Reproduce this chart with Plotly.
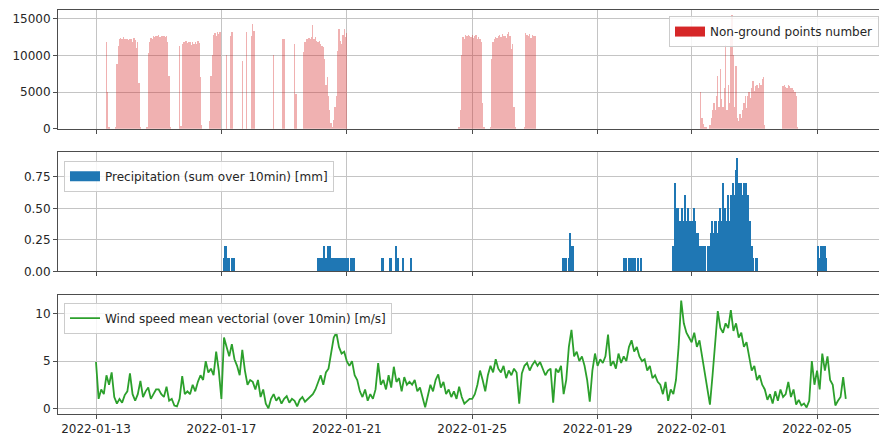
import pandas as pd
import plotly.graph_objects as go

# ---------------- data ----------------
start = pd.Timestamp("2022-01-13 00:00")

# wind speed, one value every 2 hours from 2022-01-13 00:00 (12 per day)
wind_speed = [
    4.9, 1.0, 2.0, 1.5, 3.5, 2.5, 3.8, 1.2, 0.5, 1.0, 0.6, 1.4,
    1.8, 3.7, 1.5, 0.8, 1.5, 2.9, 1.2, 1.8, 2.2, 1.0, 1.5, 2.0,
    2.0, 1.5, 1.2, 2.3, 0.8, 1.0, 0.3, 0.2, 1.0, 3.4, 1.5, 1.8,
    1.5, 2.5, 1.8, 2.8, 3.5, 3.0, 5.0, 3.8, 4.2, 3.5, 6.0, 4.0,
    1.0, 7.5, 6.5, 5.5, 6.8, 5.2, 4.5, 3.5, 6.2, 4.0, 2.5, 3.0,
    2.8, 2.0, 3.0, 1.2, 2.0, 0.5, 0.0, 1.0, 1.5, 0.8, 1.2, 0.5,
    1.0, 1.3, 0.6, 1.0, 0.8, 0.2, 0.9, 1.2, 0.7, 1.0, 1.3, 1.5,
    2.0, 2.8, 3.5, 2.5, 3.8, 4.2, 6.0, 7.5, 8.0, 6.5, 5.8, 6.0,
    5.0, 4.5, 5.0, 3.5, 3.0, 1.8, 1.2, 2.0, 0.8, 1.5, 1.0, 2.0,
    4.8, 2.5, 3.0, 2.0, 3.5, 2.2, 4.4, 2.8, 3.2, 1.8, 3.3, 2.5,
    2.8, 2.5, 3.0, 1.8, 2.2, 1.0, 0.1, 1.3, 2.5, 1.8, 3.0, 3.6,
    2.2, 2.8, 1.5, 2.0, 1.2, 1.8, 1.0, 2.3, 1.2, 0.5, 0.8, 1.0,
    1.0, 1.5, 2.5, 4.0, 3.0, 1.8, 3.5, 4.5, 3.8, 5.2, 4.2, 3.8,
    4.5, 3.2, 4.0, 3.5, 4.2, 3.8, 0.5, 3.7, 4.5, 4.8, 4.0, 4.6,
    5.0, 4.5, 4.9, 4.2, 3.5, 4.0, 4.2, 0.6, 4.2, 3.8, 4.5, 1.5,
    3.0, 6.5, 8.3, 5.5, 6.0, 5.0, 5.5, 4.5, 3.0, 0.7, 4.0, 5.8,
    4.5, 5.2, 4.8, 5.5, 7.8, 4.5, 5.0, 4.2, 5.8, 4.8, 5.5, 5.0,
    6.5, 7.2, 6.0, 6.5, 5.5, 5.0, 5.2, 4.0, 4.5, 3.2, 3.5, 2.8,
    2.5, 1.5, 2.8, 0.8, 2.0, 1.5, 3.0, 6.5, 11.4, 9.0, 8.0, 7.5,
    7.0, 8.0, 6.5, 7.2, 5.5, 4.0, 2.0, 0.4, 3.5, 7.0, 10.3, 8.5,
    8.0, 9.0, 8.5, 10.4, 8.2, 9.0, 7.5, 8.0, 6.5, 7.0, 5.5, 4.0,
    4.5, 3.0, 3.5, 2.5, 2.0, 0.9, 1.5, 0.5, 1.8, 0.8, 2.0, 1.2,
    1.5, 2.8, 1.2, 2.0, 0.4, 0.9, 0.3, 0.5, 0.1, 0.8, 5.0, 2.5,
    4.0, 2.0, 5.8, 4.0, 5.5, 3.0, 2.5, 0.3, 0.8, 1.2, 3.3, 1.0,
]
wind_step_hours = 2

# non-ground points number: hours since 2022-01-13 00:00 and counts
ng_hours = [
    8, 9, 10,
    15, 16, 17, 18, 19, 20, 21, 22, 23, 24, 25, 26, 27, 28, 29, 30, 31, 32, 33, 34,
    39, 40, 41, 42, 43, 44, 45, 46, 47, 48, 49, 50, 51, 52, 53, 54, 55, 56, 57,
    64, 65, 66, 67, 68, 69, 70, 71, 72, 73, 74, 75, 76, 77, 78, 79, 80, 81,
    87, 88, 89, 90, 91, 92, 93, 94, 95,
    100, 103, 104, 112, 115, 119, 120, 121,
    136, 143, 144, 152, 153,
    159, 160, 161, 162, 163, 164, 165, 166, 167, 168, 169, 170, 171, 172, 173, 174,
    175, 176, 177, 178, 179, 180, 181, 182, 183,
    184, 185, 186, 187, 188, 189, 190, 191, 192,
    278, 279, 280, 281, 282, 283, 284, 285, 286, 287, 288, 289, 290, 291, 292, 293,
    294, 295, 296, 297,
    302, 303, 304, 305, 306, 307, 308, 309, 310, 311, 312, 313, 314, 315, 316, 317,
    318, 319, 320, 321,
    328, 329, 330, 331, 332, 333, 334, 335, 336,
    463, 464, 465, 466, 467,
    470, 471, 472, 473, 474, 475, 476, 477, 478, 479, 480, 481, 482, 483, 484, 485,
    486, 487, 488, 489, 490, 491, 492, 493, 494, 495, 496, 497, 498, 499, 500, 501,
    502, 503, 504, 505, 506, 507, 508, 509, 510, 511, 512,
    526, 527, 528, 529, 530, 531, 532, 533, 534, 535, 536, 537,
]
ng_counts = [
    11800, 5000, 300,
    300, 8800, 11300, 12200, 12400, 12300, 12500, 12200, 12300, 12200, 12100, 12300,
    12200, 11800, 12400, 12100, 11000, 11800, 6200, 300,
    300, 10400, 11800, 12400, 12200, 12600, 12500, 12700, 12600, 12800, 12500, 12600,
    12700, 12600, 12500, 12700, 11800, 7200, 300,
    11300, 400, 11600, 11800, 11900, 12000, 11700, 11800, 11900, 11400, 11800, 11600,
    11900, 11500, 12000, 11700, 7000, 500,
    1000, 7200, 10000, 12800, 13000, 12700, 13200, 12900, 13200,
    10000, 12700, 13200, 9300, 13200, 12700, 14300, 13400,
    10000, 12300, 12300, 11600, 4700,
    10500, 11800, 12300, 12200, 12400, 12300, 12500, 14100, 12300, 12500, 12000, 11800,
    12000, 11600, 11300, 11100,
    9500, 6000, 7000, 4500, 2500, 800, 300, 1200, 3000,
    4400, 10600, 13600, 12000, 11500, 12800, 13600, 12500, 13000,
    300, 2600, 10000, 12500, 12300, 12800, 12600, 12800, 12700, 12500, 12800, 12400,
    12600, 12800, 12300, 12500,
    12300, 11800, 3500, 300,
    300, 9500, 11800, 12300, 12500, 12400, 12600, 12800, 12500, 12900, 12600, 12700,
    12400, 12900, 13200, 12600,
    10900, 11500, 3000, 300,
    300, 13000, 12800, 12600, 12900, 12400, 12800, 12700, 12600,
    5000, 1500, 600, 300, 200,
    500, 1500, 2600, 3500, 2500, 4500, 7200, 3000, 8100, 4000, 3000, 5500, 11400, 2500,
    6000, 3500,
    13200, 15500, 10000, 3000, 8600, 1500, 1000, 2000, 1500, 2500, 3500, 4400, 2800,
    4400, 5000, 4200,
    5500, 6500, 5200, 5800, 6000, 5500, 6300, 6000, 6800, 7000, 500,
    5800, 5900, 5700, 5600, 6000, 5800, 5500, 5600, 5300, 5000, 4500, 200,
]

# precipitation: hours since 2022-01-13 00:00 and amount [mm]
precip_hours = [
    98, 99, 100, 101, 102, 104, 106,
    170, 171, 172, 173, 174, 175, 176, 177, 178, 179, 180, 181, 182, 184, 185, 186,
    187, 188, 189, 190, 191, 192, 193, 195, 197, 198,
    219, 220, 225, 226, 230, 231, 235, 241,
    358, 359, 360, 362, 363, 364, 365,
    404, 405, 406, 408, 409, 410, 411, 413, 415, 417,
    442, 443, 444, 445, 446, 447, 448, 449, 450, 451, 452, 453, 454, 455, 456, 457,
    458, 459, 460, 461, 462, 463, 464, 465, 466,
    469, 470, 471, 472, 473, 474, 475, 476, 477, 478, 479, 480, 481, 482, 483, 484,
    485, 486, 487, 488, 489, 490, 491, 492, 493, 494, 495, 496, 497, 498, 499, 500,
    501, 502, 503, 505, 506,
    553, 554, 555, 556, 557, 558, 559,
]
precip_mm = [
    0.1, 0.2, 0.2, 0.1, 0.1, 0.1, 0.1,
    0.1, 0.1, 0.1, 0.1, 0.1, 0.2, 0.1, 0.1, 0.2, 0.2, 0.1, 0.1, 0.1, 0.1, 0.1, 0.1,
    0.1, 0.1, 0.1, 0.1, 0.1, 0.1, 0.1, 0.1, 0.1, 0.1,
    0.1, 0.1, 0.1, 0.1, 0.2, 0.1, 0.1, 0.1,
    0.1, 0.1, 0.1, 0.1, 0.3, 0.2, 0.2,
    0.1, 0.1, 0.1, 0.1, 0.1, 0.1, 0.1, 0.1, 0.1, 0.1,
    0.2, 0.7, 0.5, 0.4, 0.5, 0.4, 0.4, 0.5, 0.4, 0.6, 0.4, 0.5, 0.4, 0.4, 0.4, 0.4,
    0.5, 0.4, 0.3, 0.3, 0.2, 0.2, 0.2, 0.2, 0.2,
    0.2, 0.2, 0.3, 0.4, 0.3, 0.4, 0.4, 0.3, 0.4, 0.5, 0.4, 0.7, 0.4, 0.5, 0.4, 0.6,
    0.4, 0.6, 0.5, 0.7, 0.6, 0.8, 0.9, 0.7, 0.6, 0.7, 0.6, 0.7, 0.5, 0.7, 0.6, 0.4,
    0.4, 0.2, 0.1, 0.1, 0.1,
    0.2, 0.1, 0.2, 0.1, 0.2, 0.2, 0.1,
]

tick_dates = ["2022-01-13", "2022-01-17", "2022-01-21", "2022-01-25",
              "2022-01-29", "2022-02-01", "2022-02-05"]

# ---------------- styling ----------------
FONT = "DejaVu Sans"
TXT = "#262626"
SPINE = "#4d4d4d"
GRID = "#c4c4c4"
RED = "#d62728"
BLUE = "#1f77b4"
GREEN = "#2ca02c"

wind_time = [start + pd.Timedelta(hours=wind_step_hours * i) for i in range(len(wind_speed))]
ng_time = [start + pd.Timedelta(hours=h) for h in ng_hours]
precip_time = [start + pd.Timedelta(hours=h) for h in precip_hours]
hour_ms = 3600 * 1000

fig = go.Figure()

fig.add_trace(go.Bar(x=ng_time, y=ng_counts, width=hour_ms,
                     marker=dict(color="rgba(214,39,40,0.36)", line_width=0),
                     xaxis="x", yaxis="y", showlegend=False))
# legend key (wide rectangle, like the reference's patch)
fig.add_trace(go.Scatter(x=[None], y=[None], mode="lines", line=dict(color=RED, width=10),
                         name="Non-ground points number", xaxis="x", yaxis="y", legend="legend"))

fig.add_trace(go.Bar(x=precip_time, y=precip_mm, width=hour_ms, marker=dict(color=BLUE, line_width=0),
                     xaxis="x2", yaxis="y2", showlegend=False))
fig.add_trace(go.Scatter(x=[None], y=[None], mode="lines", line=dict(color=BLUE, width=10),
                         name="Precipitation (sum over 10min) [mm]", xaxis="x2", yaxis="y2",
                         legend="legend2"))

fig.add_trace(go.Scatter(x=wind_time, y=wind_speed, mode="lines", line=dict(color=GREEN, width=1.8),
                         name="Wind speed mean vectorial (over 10min) [m/s]", xaxis="x3", yaxis="y3",
                         legend="legend3"))

x_range = [start - pd.Timedelta(days=1.212), start + pd.Timedelta(days=24.976)]

def xax(anchor, labels):
    return dict(range=x_range, anchor=anchor, domain=[0, 1], type="date",
                tickvals=tick_dates, ticktext=tick_dates, showticklabels=labels,
                showgrid=True, gridcolor=GRID, gridwidth=1,
                showline=True, mirror=True, linecolor=SPINE, linewidth=1,
                ticks="outside", ticklen=4, tickwidth=1, tickcolor=SPINE,
                tickfont=dict(family=FONT, size=12, color=TXT), zeroline=False)

def yax(anchor, domain, rng, tv, fmt):
    return dict(range=rng, anchor=anchor, domain=domain, tickvals=tv, tickformat=fmt,
                showgrid=True, gridcolor=GRID, gridwidth=1,
                showline=True, mirror=False, linecolor=SPINE, linewidth=1,
                ticks="outside", ticklen=4, tickwidth=1, tickcolor=SPINE,
                tickfont=dict(family=FONT, size=12, color=TXT), zeroline=False)

legend_common = dict(bgcolor="rgba(255,255,255,0.85)", bordercolor="#cccccc", borderwidth=1,
                     font=dict(family=FONT, size=12, color=TXT), itemwidth=30,
                     itemclick=False, itemdoubleclick=False)

fig.update_layout(
    width=879, height=438,
    margin=dict(l=58, r=0, t=10, b=24),
    paper_bgcolor="white", plot_bgcolor="white",
    bargap=0, barmode="overlay",
    font=dict(family=FONT, size=12, color=TXT),
    xaxis=xax("y", False), xaxis2=xax("y2", False), xaxis3=xax("y3", True),
    yaxis=yax("x", [0.7062, 1.0], [0, 16200], [0, 5000, 10000, 15000], "d"),
    yaxis2=yax("x2", [0.3532, 0.6478], [0, 0.945], [0, 0.25, 0.5, 0.75], ".2f"),
    yaxis3=yax("x3", [0.0, 0.2946], [-0.6, 12.0], [0, 5, 10], "d"),
    legend=dict(x=1.0, xanchor="right", y=0.985, yanchor="top", **legend_common),
    legend2=dict(x=0.0073, xanchor="left", y=0.627, yanchor="top", **legend_common),
    legend3=dict(x=0.0073, xanchor="left", y=0.2755, yanchor="top", **legend_common),
)

fig.write_html("out.html")
